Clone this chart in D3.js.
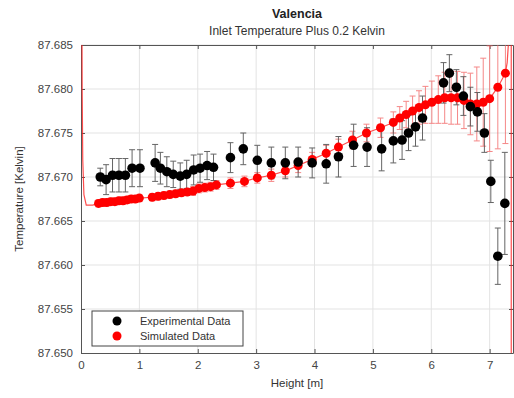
<!DOCTYPE html>
<html>
<head>
<meta charset="utf-8">
<script src="https://cdn.jsdelivr.net/npm/d3@7"></script>
<style>
  body { margin: 0; background: #fff; }
  text { font-family: "Liberation Sans", Arial, sans-serif; }
</style>
</head>
<body>
<div id="chart"></div>
<script>

// experimental data (black)
var expX = [0.33,0.43,0.54,0.65,0.76,0.875,1.01, 1.27,1.36,1.47,1.58,1.70,1.81,1.93,2.04,2.16,2.27,
	2.56,2.78,3.02,3.26,3.50,3.72,3.96,4.20,4.41,4.67,4.90,5.15,5.35,5.50,5.61,5.73,5.85,
	6.21,6.31,6.43,6.55,6.67,6.79,6.91,7.02,7.14,7.26]
var expY = [87.6700,87.6697,87.6702,87.6702,87.6702,87.6710,87.6710, 87.6716,87.6710,87.6706,87.6703,87.6701,87.6703,87.6708,87.6710,87.6713,87.6711,
	87.6722,87.6732,87.6719,87.6716,87.6716,87.6717,87.6716,87.6715,87.6723,87.6736,87.6734,87.6732,87.6741,87.6742,87.6750,87.6757,87.6767,
	87.6807,87.6818,87.6802,87.6792,87.6780,87.6774,87.6750,87.6695,87.6610,87.6670]
var expErr = [0.0010,0.0017,0.0019,0.0019,0.0019,0.0021,0.0021, 0.0021,0.0018,0.0017,0.0015,0.0015,0.0016,0.0017,0.0016,0.0016,0.0015,
	0.0017,0.0018,0.0017,0.0018,0.0018,0.0017,0.0017,0.0022,0.0023,0.0024,0.0022,0.0025,0.0025,0.0022,0.0020,0.0022,0.0025,
	0.0023,0.0021,0.0020,0.0022,0.0022,0.0022,0.0022,0.0024,0.0032,0.0058]

// simulated data (red)
var simX = [0.30,0.37,0.44,0.51,0.58,0.65,0.72,0.79,0.86,0.93,1.00,
	1.22,1.32,1.42,1.52,1.62,1.72,1.82,1.92,2.02,2.12,2.22,2.32,
	2.56,2.80,3.02,3.26,3.50,3.72,3.96,4.20,4.41,4.65,4.89,5.13,
	5.35,5.46,5.57,5.68,5.79,5.90,6.01,6.12,6.23,6.34,6.45,6.56,6.67,6.78,6.89,7.00,7.14,7.27]
var simY = [87.6670,87.6671,87.6671,87.6672,87.6672,87.6673,87.6673,87.6674,87.6675,87.6675,87.6676,
	87.6677,87.6678,87.6679,87.6680,87.6681,87.6682,87.6683,87.6684,87.6687,87.6688,87.6689,87.6691,
	87.6693,87.6695,87.6699,87.6702,87.6707,87.6713,87.6720,87.6727,87.6734,87.6742,87.6750,87.6756,
	87.6762,87.6767,87.6771,87.6775,87.6779,87.6782,87.6785,87.6788,87.6790,87.6790,87.6790,87.6787,87.6783,87.6783,87.6785,87.6789,87.6802,87.6818]
var simErr = [0.0004,0.0004,0.0004,0.0004,0.0004,0.0004,0.0004,0.0004,0.0004,0.0004,0.0004,
	0.0004,0.0004,0.0004,0.0004,0.0004,0.0004,0.0004,0.0005,0.0005,0.0005,0.0005,0.0005,
	0.0006,0.0006,0.0006,0.0007,0.0007,0.0008,0.0008,0.0009,0.0009,0.0010,0.0010,0.0011,
	0.0012,0.0013,0.0015,0.0017,0.0019,0.0021,0.0024,0.0027,0.0029,0.0030,0.0030,0.0032,0.0035,0.0042,0.0050,0.0060,0.0070,0.0080]

// thin simulated curve, start and end pieces
var curveHeadX = [0.015,0.02,0.03,0.05,0.09,0.20]
var curveHeadY = [87.690,87.680,87.672,87.668,87.6668,87.6668]
var curveTailX = [7.30,7.34,7.37,7.37]
var curveTailY = [87.6830,87.6870,87.6870,87.6400]

var xTicks = [0,1,2,3,4,5,6,7]
var yTicks = [87.650,87.655,87.660,87.665,87.670,87.675,87.680,87.685]

var width = 514, height = 398
var margin = {top: 45, right: 1, bottom: 45, left: 81}
var w = width - margin.left - margin.right
var h = height - margin.top - margin.bottom

var svg = d3.select("#chart").append("svg")
	.attr("width", width)
	.attr("height", height)

var x = d3.scaleLinear().domain([0, 7.4]).range([0, w])
var y = d3.scaleLinear().domain([87.650, 87.685]).range([h, 0])

var g = svg.append("g").attr("transform", "translate(" + margin.left + "," + margin.top + ")")

svg.append("defs").append("clipPath").attr("id", "clip")
	.append("rect").attr("width", w).attr("height", h)

// grid
g.append("g").selectAll("line").data(xTicks.slice(1)).enter().append("line")
	.attr("x1", d => x(d)).attr("x2", d => x(d)).attr("y1", 0).attr("y2", h)
	.attr("stroke", "#e3e3e3")
g.append("g").selectAll("line").data(yTicks.slice(1)).enter().append("line")
	.attr("y1", d => y(d)).attr("y2", d => y(d)).attr("x1", 0).attr("x2", w)
	.attr("stroke", "#e3e3e3")

// axes
var xAxis = d3.axisBottom(x).tickValues(xTicks).tickFormat(d3.format("d")).tickSizeInner(-4).tickSizeOuter(0).tickPadding(8)
var yAxis = d3.axisLeft(y).tickValues(yTicks).tickFormat(d3.format(".3f")).tickSizeInner(-4).tickSizeOuter(0).tickPadding(8)

var gx = g.append("g").attr("transform", "translate(0," + h + ")").call(xAxis)
var gy = g.append("g").call(yAxis)
g.append("g").call(d3.axisTop(x).tickValues(xTicks).tickFormat("").tickSizeInner(-4).tickSizeOuter(0))
g.append("g").attr("transform", "translate(" + w + ",0)").call(d3.axisRight(y).tickValues(yTicks).tickFormat("").tickSizeInner(-4).tickSizeOuter(0))

g.selectAll(".domain").attr("stroke", "#555")
g.selectAll(".tick line").attr("stroke", "#555")
g.selectAll(".tick text").attr("fill", "#444").style("font-size", "11.5px")
	.style("font-family", "'Liberation Sans', Arial, sans-serif")

var plot = g.append("g").attr("clip-path", "url(#clip)")

// thin simulated curve
var curvePts = curveHeadX.map((d, i) => [d, curveHeadY[i]])
	.concat(simX.map((d, i) => [d, simY[i]]))
	.concat(curveTailX.map((d, i) => [d, curveTailY[i]]))
plot.append("path")
	.attr("d", d3.line().x(d => x(d[0])).y(d => y(d[1]))(curvePts))
	.attr("fill", "none").attr("stroke", "#ff2020").attr("stroke-width", 1.2).attr("opacity", 0.8)

// error bars
function errorBars(sel, xs, ys, es, colour, opacity) {
	var data = xs.map((d, i) => ({x: d, y: ys[i], e: es[i]}))
	var eb = sel.append("g").attr("stroke", colour).attr("stroke-width", 1).attr("opacity", opacity)
	eb.selectAll(".v").data(data).enter().append("line")
		.attr("x1", d => x(d.x)).attr("x2", d => x(d.x))
		.attr("y1", d => y(d.y - d.e)).attr("y2", d => y(d.y + d.e))
	eb.selectAll(".t").data(data).enter().append("line")
		.attr("x1", d => x(d.x) - 3).attr("x2", d => x(d.x) + 3)
		.attr("y1", d => y(d.y + d.e)).attr("y2", d => y(d.y + d.e))
	eb.selectAll(".b").data(data).enter().append("line")
		.attr("x1", d => x(d.x) - 3).attr("x2", d => x(d.x) + 3)
		.attr("y1", d => y(d.y - d.e)).attr("y2", d => y(d.y - d.e))
}

errorBars(plot, simX, simY, simErr, "#f26060", 0.75)
errorBars(plot, expX, expY, expErr, "#555", 0.9)

plot.selectAll(".sim").data(simX).enter().append("circle")
	.attr("cx", d => x(d)).attr("cy", (d, i) => y(simY[i]))
	.attr("r", 4.5).attr("fill", "#ff0000")

plot.selectAll(".exp").data(expX).enter().append("circle")
	.attr("cx", d => x(d)).attr("cy", (d, i) => y(expY[i]))
	.attr("r", 4.8).attr("fill", "#000")

// legend
var leg = g.append("g").attr("transform", "translate(11,266)")
leg.append("rect").attr("width", 151).attr("height", 35)
	.attr("fill", "#fff").attr("stroke", "#444")
var legItems = [["Experimental Data", "#000"], ["Simulated Data", "#ff0000"]]
legItems.forEach(function(d, i) {
	leg.append("circle").attr("cx", 25).attr("cy", 10 + i * 15).attr("r", 4.5).attr("fill", d[1])
	leg.append("text").attr("x", 48).attr("y", 14 + i * 15).text(d[0])
		.style("font-size", "11px").attr("fill", "#333")
})

// titles
svg.append("text").attr("x", margin.left + w / 2).attr("y", 18).attr("text-anchor", "middle")
	.style("font-size", "12.5px").style("font-weight", "bold").attr("fill", "#222").text("Valencia")
svg.append("text").attr("x", margin.left + w / 2).attr("y", 35).attr("text-anchor", "middle")
	.style("font-size", "12px").attr("fill", "#333").text("Inlet Temperature Plus 0.2 Kelvin")
svg.append("text").attr("x", margin.left + w / 2).attr("y", 387).attr("text-anchor", "middle")
	.style("font-size", "11.5px").attr("fill", "#333").text("Height [m]")
svg.append("text").attr("transform", "translate(23," + (margin.top + h / 2) + ") rotate(-90)")
	.attr("text-anchor", "middle").style("font-size", "11.5px").attr("fill", "#333").text("Temperature [Kelvin]")

</script>
</body>
</html>
